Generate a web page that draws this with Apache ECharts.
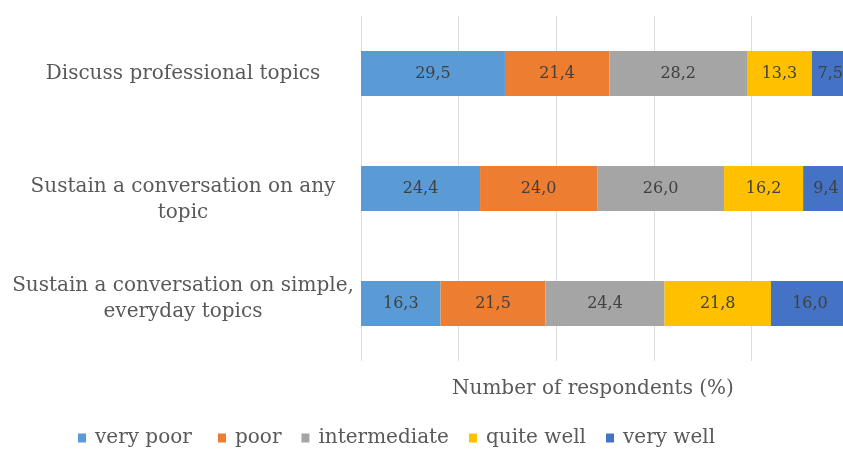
<!DOCTYPE html>
<html>
<head>
<meta charset="utf-8">
<script src="https://cdn.jsdelivr.net/npm/echarts@6/dist/echarts.min.js"></script>
<style>html,body{margin:0;padding:0;background:#fff}#c{width:843px;height:450px}</style>
</head>
<body>
<div id="c"></div>
<script>
const categories = [
  "Sustain a conversation on simple,\neveryday topics",
  "Sustain a conversation on any\ntopic",
  "Discuss professional topics"
];
const seriesNames = ["very poor", "poor", "intermediate", "quite well", "very well"];
const veryPoor = [16.3, 24.4, 29.5];
const poor = [21.5, 24.0, 21.4];
const intermediate = [24.4, 26.0, 28.2];
const quiteWell = [21.8, 16.2, 13.3];
const veryWell = [16.0, 9.4, 7.5];
const axisTitle = "Number of respondents (%)";

const colors = ["#5B9BD5", "#ED7D31", "#A5A5A5", "#FFC000", "#4472C4"];
const font = "DejaVu Serif, serif";
const allData = [veryPoor, poor, intermediate, quiteWell, veryWell];
const legendText = {color: '#595959', fontFamily: font, fontSize: 20, padding: [0, 0, 0, 4]};
const legendBase = {top: 423, itemWidth: 8, itemHeight: 9, itemGap: 20, icon: 'rect', textStyle: legendText};

const chart = echarts.init(document.getElementById('c'), null, {renderer: 'canvas'});
chart.setOption({
  animation: false,
  color: colors,
  textStyle: {fontFamily: font},
  grid: {left: 361, top: 16, width: 488, height: 345, containLabel: false, outerBoundsMode: 'none'},
  xAxis: {
    type: 'value', min: 0, max: 100, interval: 20,
    axisLabel: {show: false},
    axisLine: {show: false},
    axisTick: {show: false},
    splitLine: {show: true, lineStyle: {color: '#DDDDDD', width: 1}}
  },
  yAxis: {
    type: 'category',
    data: categories,
    axisLine: {show: false},
    axisTick: {show: false},
    axisLabel: {
      margin: 178, align: 'center', color: '#595959',
      fontFamily: font, fontSize: 20, lineHeight: 26,
      formatter: (val, idx) => {
        let s = val.split('\n').map(l => '{t|' + l + '}').join('\n');
        if (idx === 1) s = '{s1| }\n' + s;
        if (idx === 0) s = s + '\n{s0| }';
        return s;
      },
      rich: {
        t: {fontFamily: font, fontSize: 20, lineHeight: 26, color: '#595959', align: 'center'},
        s1: {fontSize: 1, lineHeight: 22},
        s0: {fontSize: 1, lineHeight: 10}
      }
    }
  },
  legend: [
    Object.assign({}, legendBase, {data: seriesNames.slice(0, 1), left: 73}),
    Object.assign({}, legendBase, {data: seriesNames.slice(1), left: 213})
  ],
  graphic: [{
    type: 'text', left: 452, top: 379,
    style: {text: axisTitle, fill: '#595959', font: '20px ' + font}
  }],
  series: seriesNames.map((n, i) => ({
    name: n, type: 'bar', stack: 'total', barWidth: 45,
    data: allData[i],
    itemStyle: {color: colors[i]},
    label: {
      show: true, position: 'inside', color: '#404040',
      fontFamily: font, fontSize: 16,
      formatter: p => p.value.toFixed(1).replace('.', ',')
    }
  }))
});
</script>
</body>
</html>
